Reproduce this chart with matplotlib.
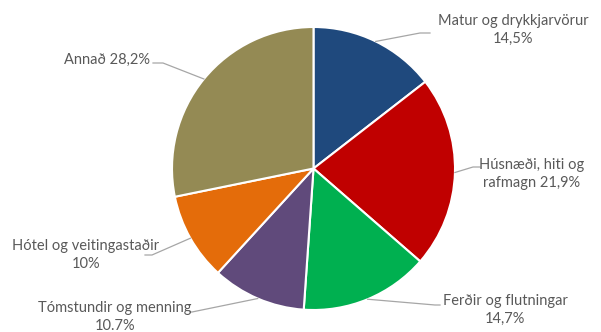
import numpy as np
import matplotlib.pyplot as plt

plt.rcParams["font.family"] = ["Lato", "DejaVu Sans"]

categories = [
    "Matur og drykkjarvörur",
    "Húsnæði, hiti og rafmagn",
    "Ferðir og flutningar",
    "Tómstundir og menning",
    "Hótel og veitingastaðir",
    "Annað",
]
shares = [14.5, 21.9, 14.7, 10.7, 10.0, 28.2]
label_texts = [
    "Matur og drykkjarvörur\n14,5%",
    "Húsnæði, hiti og\nrafmagn 21,9%",
    "Ferðir og flutningar\n14,7%",
    "Tómstundir og menning\n10.7%",
    "Hótel og veitingastaðir\n10%",
    "Annað 28,2%",
]
colors = ["#1F497D", "#C00000", "#00B050", "#604A7B", "#E46C0A", "#948A54"]

W, H = 601, 332
cx, cy, radius = 313.5, 168.5, 141.5

# label placement in pixel space (x, y from top): text anchor, elbow, line end
label_pos = [(513, 30), (532, 174), (505, 310), (115, 317), (86, 255), (107, 60)]
elbows = [(420, 33), (473, 167), (435, 305), (192, 312), (152, 255), (163, 63)]
line_ends = [(430, 33), (480, 167), (440, 305), (190, 312), (145, 255), (153, 63)]


def py(y):
    return H - y


fig = plt.figure(figsize=(W / 100, H / 100), dpi=100)
ax = fig.add_axes([0, 0, 1, 1])

wedges, _ = ax.pie(
    shares,
    colors=colors,
    startangle=90,
    counterclock=False,
    center=(cx, py(cy)),
    radius=radius,
    wedgeprops=dict(edgecolor="white", linewidth=1.5),
)
ax.set_xlim(0, W)
ax.set_ylim(0, H)
ax.set_aspect("equal")
ax.axis("off")

for w, txt, (tx, ty), (ex, ey), (lx, ly) in zip(wedges, label_texts, label_pos, elbows, line_ends):
    ang = np.deg2rad((w.theta1 + w.theta2) / 2)
    ax_ = cx + radius * np.cos(ang)
    ay_ = cy - radius * np.sin(ang)
    ax.plot([ax_, ex, lx], [py(ay_), py(ey), py(ly)], color="#A6A6A6", lw=0.9, zorder=1)
    ax.text(tx, py(ty), txt, ha="center", va="center", fontsize=10.5,
            color="#595959", linespacing=1.35, zorder=3)

fig.savefig("out.png", dpi=100)
